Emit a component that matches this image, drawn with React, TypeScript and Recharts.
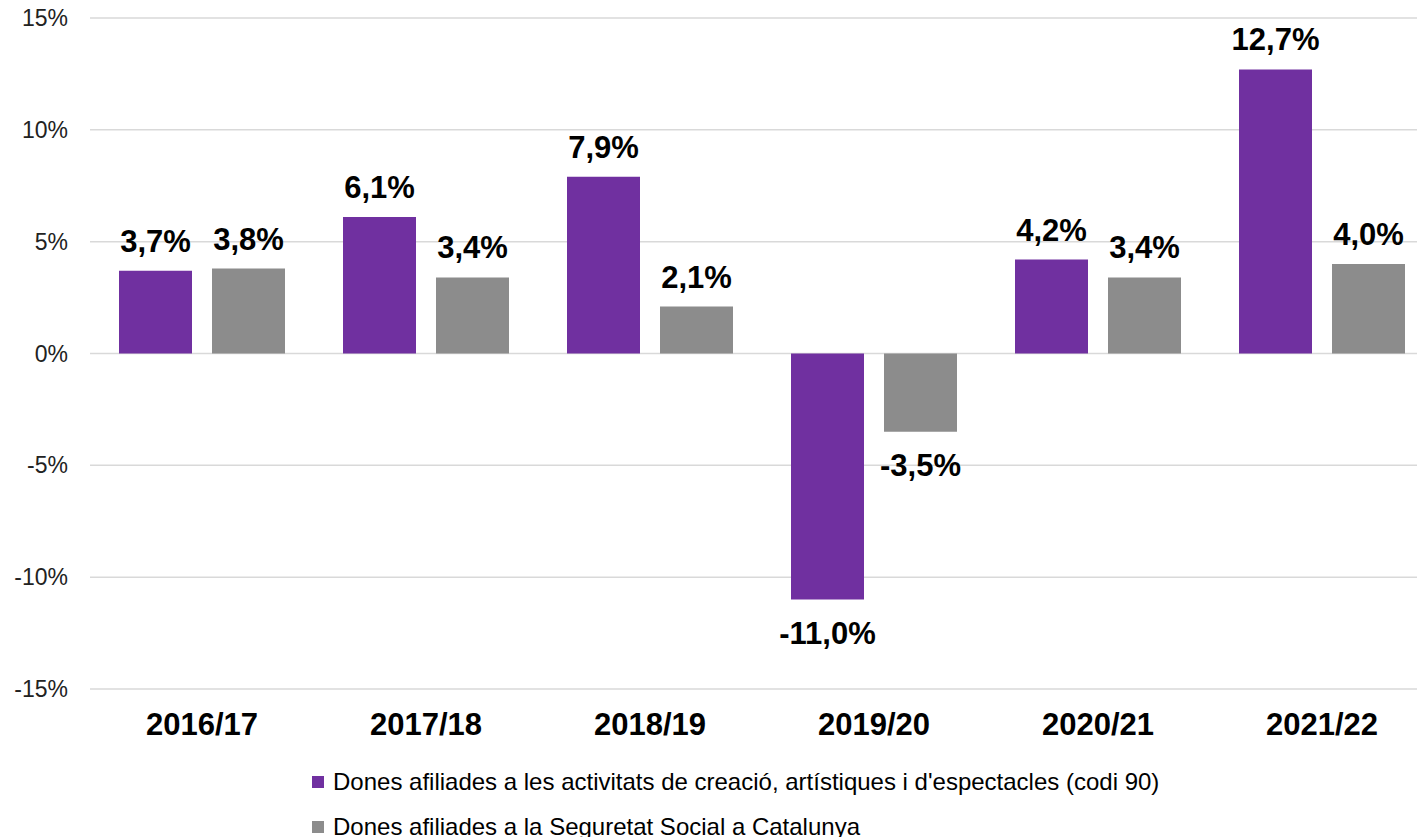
import React from 'react';
import { BarChart, Bar, XAxis, YAxis, CartesianGrid, Legend, LabelList } from 'recharts';

const categories = ['2016/17', '2017/18', '2018/19', '2019/20', '2020/21', '2021/22'];
const creacioValues = [3.7, 6.1, 7.9, -11.0, 4.2, 12.7];
const catalunyaValues = [3.8, 3.4, 2.1, -3.5, 3.4, 4.0];
const yTicks = [-15, -10, -5, 0, 5, 10, 15];
const seriesNames = [
  "Dones afiliades a les activitats de creació, artístiques i d'espectacles (codi 90)",
  'Dones afiliades a la Seguretat Social a Catalunya',
];

const data = categories.map((c, i) => ({ cat: c, a: creacioValues[i], b: catalunyaValues[i] }));

const FONT = '"Liberation Sans", Arial, sans-serif';

const fmt = (v: number) => `${v.toFixed(1).replace('.', ',')}%`;

const renderLabel = (props: any) => {
  const { x, y, width, height, value } = props;
  const top = Math.min(y, y + height);
  const bottom = Math.max(y, y + height);
  const cx = x + width / 2;
  const ty = value >= 0 ? top - 19 : bottom + 44;
  return (
    <text x={cx} y={ty} textAnchor="middle" fontFamily={FONT} fontWeight="bold" fontSize={31} fill="#000">
      {fmt(value)}
    </text>
  );
};

const renderLegend = (props: any) => {
  const payload = [...(props.payload || [])].sort(
    (p: any, q: any) => seriesNames.indexOf(p.value) - seriesNames.indexOf(q.value)
  );
  return (
    <div style={{ fontFamily: FONT, fontSize: 24, color: '#000' }}>
      {payload.map((p: any, i: number) => (
        <div key={i} style={{ display: 'flex', alignItems: 'center', height: 45, whiteSpace: 'nowrap' }}>
          <span style={{ display: 'inline-block', width: 12, height: 12, background: p.color, marginRight: 9 }} />
          <span>{p.value}</span>
        </div>
      ))}
    </div>
  );
};

export default function App() {
  return (
    <div style={{ position: 'absolute', left: 0, top: 0, width: 1417, height: 837, background: '#fff' }}>
      <BarChart
        width={1417}
        height={837}
        data={data}
        margin={{ top: 18, right: 0, bottom: 0, left: 0 }}
        barSize={73}
        barGap={20}
        style={{ overflow: 'visible' }}
      >
        <CartesianGrid horizontal vertical={false} stroke="#d9d9d9" strokeWidth={1.5} />
        <XAxis
          dataKey="cat"
          height={148}
          axisLine={false}
          tickLine={false}
          tickSize={0}
          tickMargin={24}
          padding={{ left: 0, right: -17 }}
          interval={0}
          tick={{ fontFamily: FONT, fontWeight: 'bold', fontSize: 31, fill: '#000' }}
        />
        <YAxis
          width={90}
          domain={[-15, 15]}
          ticks={yTicks}
          axisLine={false}
          tickLine={false}
          tickSize={0}
          tickMargin={22}
          tickFormatter={(v: number) => `${v}%`}
          tick={{ fontFamily: FONT, fontSize: 23, fill: '#222' }}
        />
        <Legend
          layout="horizontal"
          verticalAlign="middle"
          align="center"
          wrapperStyle={{ top: 759, left: 312, width: 1000 }}
          content={renderLegend}
        />
        <Bar dataKey="a" name={seriesNames[0]} fill="#7030A0" isAnimationActive={false}>
          <LabelList dataKey="a" content={renderLabel} />
        </Bar>
        <Bar dataKey="b" name={seriesNames[1]} fill="#8C8C8C" isAnimationActive={false}>
          <LabelList dataKey="b" content={renderLabel} />
        </Bar>
      </BarChart>
    </div>
  );
}
